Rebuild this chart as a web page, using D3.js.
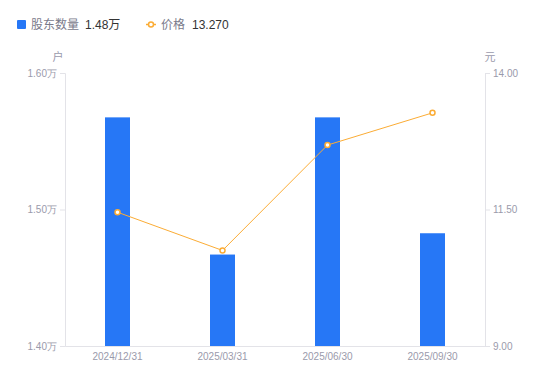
<!DOCTYPE html>
<html>
<head>
<meta charset="utf-8">
<script src="https://cdn.jsdelivr.net/npm/d3@7"></script>
<style>
  body { margin: 0; background: #fff; }
  svg { display: block; font-family: "Liberation Sans", "Noto Sans CJK SC", sans-serif; }
</style>
</head>
<body>
<div id="chart"></div>
<script>
// chart data
const dates = ["2024/12/31", "2025/03/31", "2025/06/30", "2025/09/30"];
const holders = [1.5675, 1.467, 1.5675, 1.4826];   // 万户
const prices = [11.45, 10.75, 12.68, 13.27];        // 元
const leftTicks = [1.40, 1.50, 1.60];
const rightTicks = [9.00, 11.50, 14.00];

const width = 550;
const height = 381;
const margin = { top: 73, right: 65, bottom: 35, left: 65 };
const innerW = width - margin.left - margin.right;
const innerH = height - margin.top - margin.bottom;

const blue = "#2677f6";
const orange = "#fbac35";
const tickColor = "#9a9aab";
const axisColor = "#e3e3e8";

const svg = d3.select("#chart")
    .append("svg")
    .attr("width", width)
    .attr("height", height);

const g = svg.append("g")
    .attr("transform", `translate(${margin.left},${margin.top})`);

const x = d3.scaleBand()
    .domain(dates)
    .range([0, innerW]);

const yLeft = d3.scaleLinear()
    .domain([1.40, 1.60])
    .range([innerH, 0]);

const yRight = d3.scaleLinear()
    .domain([9, 14])
    .range([innerH, 0]);

// left axis
const leftAxis = g.append("g")
    .call(d3.axisLeft(yLeft).tickValues(leftTicks).tickSize(5).tickPadding(3)
        .tickFormat(d => d3.format(".2f")(d) + "万"));

// right axis
const rightAxis = g.append("g")
    .attr("transform", `translate(${innerW},0)`)
    .call(d3.axisRight(yRight).tickValues(rightTicks).tickSize(5).tickPadding(3)
        .tickFormat(d3.format(".2f")));

// bottom axis
const bottomAxis = g.append("g")
    .attr("transform", `translate(0,${innerH})`)
    .call(d3.axisBottom(x).tickSize(0).tickPadding(7));

[leftAxis, rightAxis, bottomAxis].forEach(a => {
    a.select(".domain").attr("stroke", axisColor);
    a.selectAll(".tick line").attr("stroke", axisColor);
    a.selectAll(".tick text")
        .attr("fill", tickColor)
        .style("font-size", "10px");
});

// units
svg.append("text")
    .attr("x", 58).attr("y", 61)
    .attr("text-anchor", "middle")
    .attr("fill", tickColor)
    .style("font-size", "11px")
    .text("户");

svg.append("text")
    .attr("x", 490).attr("y", 61)
    .attr("text-anchor", "middle")
    .attr("fill", tickColor)
    .style("font-size", "11px")
    .text("元");

// bars
const barW = 25;
g.selectAll(".bar")
    .data(holders)
    .enter()
    .append("rect")
    .attr("class", "bar")
    .attr("x", (d, i) => x(dates[i]) + x.bandwidth() / 2 - barW / 2)
    .attr("y", d => yLeft(d))
    .attr("width", barW)
    .attr("height", d => innerH - yLeft(d))
    .attr("fill", blue);

// price line
const line = d3.line()
    .x((d, i) => x(dates[i]) + x.bandwidth() / 2)
    .y(d => yRight(d));

g.append("path")
    .datum(prices)
    .attr("fill", "none")
    .attr("stroke", orange)
    .attr("stroke-width", 1)
    .attr("d", line);

g.selectAll(".pt")
    .data(prices)
    .enter()
    .append("circle")
    .attr("class", "pt")
    .attr("cx", (d, i) => x(dates[i]) + x.bandwidth() / 2)
    .attr("cy", d => yRight(d))
    .attr("r", 2.5)
    .attr("fill", "#fff")
    .attr("stroke", orange)
    .attr("stroke-width", 1.5);

// legend
const legend = svg.append("g").style("font-size", "12px");

legend.append("rect")
    .attr("x", 17).attr("y", 20)
    .attr("width", 9).attr("height", 9)
    .attr("rx", 1)
    .attr("fill", blue);

legend.append("text")
    .attr("x", 31).attr("y", 29)
    .attr("fill", "#7a7a8a")
    .text("股东数量");

legend.append("text")
    .attr("x", 85).attr("y", 29)
    .attr("fill", "#333")
    .text(d3.format(".2f")(holders[holders.length - 1]) + "万");

legend.append("line")
    .attr("x1", 146).attr("x2", 156)
    .attr("y1", 24.5).attr("y2", 24.5)
    .attr("stroke", orange)
    .attr("stroke-width", 1.5);

legend.append("circle")
    .attr("cx", 151).attr("cy", 24.5)
    .attr("r", 2.5)
    .attr("fill", "#fff")
    .attr("stroke", orange)
    .attr("stroke-width", 1.5);

legend.append("text")
    .attr("x", 161).attr("y", 29)
    .attr("fill", "#7a7a8a")
    .text("价格");

legend.append("text")
    .attr("x", 192).attr("y", 29)
    .attr("fill", "#333")
    .text(d3.format(".3f")(prices[prices.length - 1]));
</script>
</body>
</html>
